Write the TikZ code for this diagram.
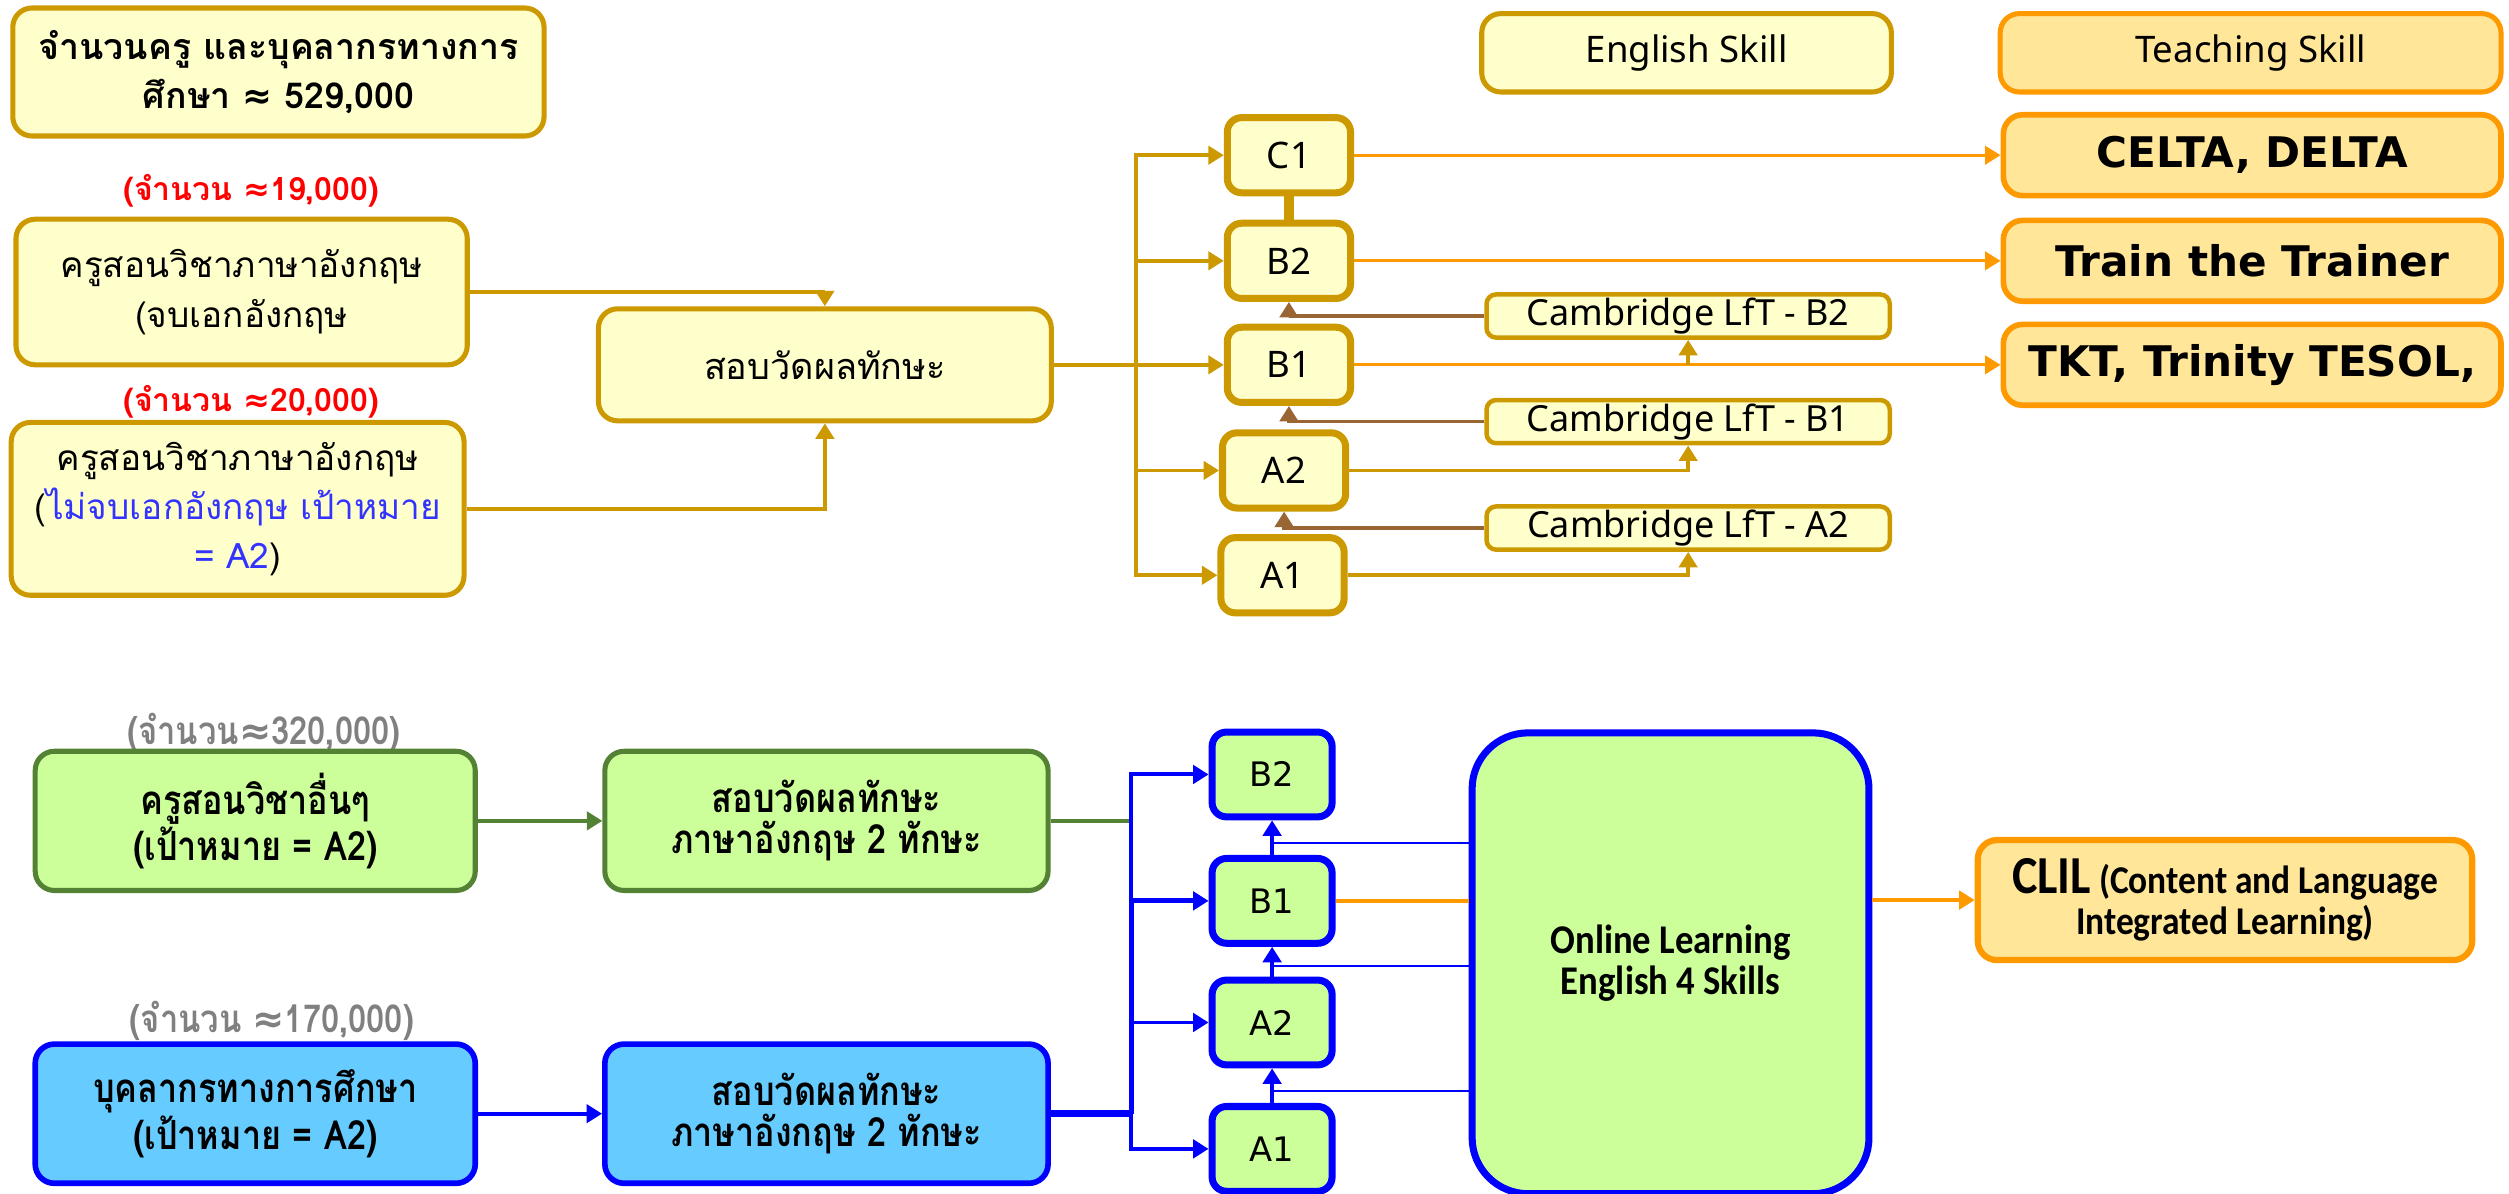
\documentclass[tikz,border=0pt]{standalone}
\usepackage{fontspec}
\usetikzlibrary{arrows.meta,calc}
\newfontfamily\thai[Script=Thai]{Loma}
\newfontfamily\thaicn[Script=Thai,FakeStretch=0.85]{Loma}
\newfontfamily\uisans{Noto Sans}
\newfontfamily\vsans{DejaVu Sans}
\newfontfamily\calib[FakeStretch=0.9]{Carlito}
\newcommand{\apx}{{\vsans ≈}}
\definecolor{goldline}{RGB}{204,153,0}
\definecolor{creamfill}{RGB}{255,255,204}
\definecolor{orangeline}{RGB}{255,153,0}
\definecolor{peachfill}{RGB}{255,230,153}
\definecolor{brownline}{RGB}{153,102,51}
\definecolor{greenline}{RGB}{84,130,53}
\definecolor{greenfill}{RGB}{204,255,153}
\definecolor{bluefill}{RGB}{102,204,255}
\definecolor{textblue}{RGB}{51,51,255}
\definecolor{labelgrey}{RGB}{128,128,128}

\begin{document}
\begin{tikzpicture}[x=0.2mm, y=-0.2mm, >={Triangle[width=6.5pt,length=5.5pt]},
	goldbox/.style={rectangle,draw=goldline,line width=1.8pt,fill=creamfill,rounded corners=2.4mm,align=center,inner sep=0pt,font=\thai\fontsize{12.5}{17.5}\selectfont},
	levelbox/.style={rectangle,draw=goldline,line width=2.5pt,fill=creamfill,rounded corners=1.8mm,minimum width=15.4mm,minimum height=9.4mm,font=\uisans\fontsize{13}{15}\selectfont},
	lftbox/.style={rectangle,draw=goldline,line width=1.6pt,fill=creamfill,rounded corners=1.2mm,minimum width=50.4mm,minimum height=5.4mm,inner sep=0pt,font=\uisans\fontsize{12.8}{14}\selectfont},
	teachbox/.style={rectangle,draw=orangeline,line width=2pt,fill=peachfill,rounded corners=2.4mm,minimum width=62.2mm,minimum height=10.1mm,font=\vsans\bfseries\fontsize{15}{17}\selectfont},
	headbox/.style={rectangle,draw,line width=1.8pt,rounded corners=2.4mm,minimum height=9.8mm,font=\uisans\fontsize{13}{15}\selectfont},
	greenbox/.style={rectangle,draw=greenline,line width=1.8pt,fill=greenfill,rounded corners=2.4mm,minimum width=55mm,minimum height=17.4mm,align=center,font=\thaicn\bfseries\fontsize{14.3}{14.5}\selectfont},
	bluebox/.style={greenbox,draw=blue,line width=2pt,fill=bluefill},
	onlevel/.style={rectangle,draw=blue,line width=2.5pt,fill=greenfill,rounded corners=1.8mm,minimum width=15mm,minimum height=10.6mm,font=\vsans\fontsize{12}{14}\selectfont},
	redlabel/.style={text=red,font=\thai\bfseries\fontsize{11.4}{13}\selectfont},
	greylabel/.style={text=labelgrey,font=\thaicn\bfseries\fontsize{13.7}{15}\selectfont}]
	\path[use as bounding box,fill=white] (0,0) rectangle (1568,746);
	\node[goldbox,minimum width=66.4mm,minimum height=16mm,font=\thai\bfseries\fontsize{12.7}{17.5}\selectfont] (Total) at (174,45) {จำนวนครู และบุคลากรทางการ\\ศึกษา \apx{} 529,000};
	\node[headbox,draw=goldline,fill=creamfill,minimum width=51.2mm] (Eng) at (1054,33) {English Skill};
	\node[headbox,draw=orangeline,fill=peachfill,minimum width=62.6mm] (Teach) at (1406.5,33) {Teaching Skill};
	\node[redlabel] (N1) at (157,119) {(จำนวน \apx19,000)};
	\node[goldbox,minimum width=56.4mm,minimum height=18.2mm] (T1) at (151,182.5) {ครูสอนวิชาภาษาอังกฤษ\\(จบเอกอังกฤษ};
	\node[redlabel] (N2) at (157,251) {(จำนวน \apx20,000)};
	\node[goldbox,minimum width=56.6mm,minimum height=21.6mm] (T2) at (148.5,318) {ครูสอนวิชาภาษาอังกฤษ\\(\textcolor{textblue}{ไม่จบเอกอังกฤษ เป้าหมาย}\\\textcolor{textblue}{= A2})};
	\node[goldbox,minimum width=56.6mm,minimum height=14mm,font=\thai\fontsize{12.8}{17.5}\selectfont] (Test) at (515.5,228) {สอบวัดผลทักษะ};
	\node[levelbox] (C1) at (805.5,97) {C1};
	\node[levelbox] (B2) at (805.5,163) {B2};
	\node[levelbox] (B1) at (805.5,228) {B1};
	\node[levelbox] (A2) at (802.5,294) {A2};
	\node[levelbox] (A1) at (801.5,359.5) {A1};
	\node[lftbox] (LB2) at (1055,197.5) {Cambridge LfT - B2};
	\node[lftbox] (LB1) at (1055,263.5) {Cambridge LfT - B1};
	\node[lftbox] (LA2) at (1055,330) {Cambridge LfT - A2};
	\node[teachbox] (Celta) at (1407.5,97) {CELTA, DELTA};
	\node[teachbox] (Trainer) at (1407.5,163) {Train the Trainer};
	\node[teachbox] (Tkt) at (1407.5,228) {TKT, Trinity TESOL,};
	\coordinate (Split) at (710,228);
	\draw[->, color=goldline, line width=1.3pt] (T1) -| (Test);
	\draw[->, color=goldline, line width=1.3pt] (T2) -| (Test);
	\draw[->, color=goldline, line width=1.3pt] (Test) -- (B1);
	\draw[->, color=goldline, line width=1.3pt] (Split) |- (C1);
	\draw[->, color=goldline, line width=1.3pt] (Split) |- (B2);
	\draw[->, color=goldline, line width=1.3pt] (Split) |- (A2);
	\draw[->, color=goldline, line width=1.3pt] (Split) |- (A1);
	\draw[-, color=goldline, line width=3.3pt] (C1) -- (B2);
	\draw[->, color=orangeline, line width=1.1pt] (C1) -- (Celta);
	\draw[->, color=orangeline, line width=1.1pt] (B2) -- (Trainer);
	\draw[->, color=orangeline, line width=1.1pt] (B1) -- (Tkt);
	\draw[->, color=brownline, line width=1.3pt] (LB2) -| (B2);
	\draw[->, color=brownline, line width=1.3pt] (LB1) -| (B1);
	\draw[->, color=brownline, line width=1.3pt] (LA2) -| (A2);
	\draw[->, color=goldline, line width=1.3pt] (B1 -| LB2) -- (LB2);
	\draw[->, color=goldline, line width=1.3pt] (A2) -| (LB1);
	\draw[->, color=goldline, line width=1.3pt] (A1) -| (LA2);
	\node[greylabel] (N3) at (165,458) {(จำนวน\apx320,000)};
	\node[greenbox] (Other) at (159.5,513) {ครูสอนวิชาอื่นๆ\\(เป้าหมาย = A2)};
	\node[greylabel] (N4) at (170,638) {(จำนวน \apx170,000)};
	\node[bluebox] (Staff) at (159.5,696) {บุคลากรทางการศึกษา\\(เป้าหมาย = A2)};
	\node[greenbox,minimum width=55.4mm] (TestG) at (516.5,513) {สอบวัดผลทักษะ\\ภาษาอังกฤษ 2 ทักษะ};
	\node[bluebox,minimum width=55.4mm] (TestB) at (516.5,696) {สอบวัดผลทักษะ\\ภาษาอังกฤษ 2 ทักษะ};
	\node[onlevel] (OB2) at (795,484) {B2};
	\node[onlevel] (OB1) at (795,563) {B1};
	\node[onlevel] (OA2) at (795,639) {A2};
	\node[onlevel] (OA1) at (795,718) {A1};
	\node[rectangle,draw=blue,line width=2.5pt,fill=greenfill,rounded corners=7mm,minimum width=49.6mm,minimum height=57.6mm,align=center,font=\calib\bfseries\fontsize{14.5}{14.5}\selectfont] (Online) at (1044,602) {Online Learning\\English 4 Skills};
	\node[rectangle,draw=orangeline,line width=2.2pt,fill=peachfill,rounded corners=2.4mm,minimum width=61.8mm,minimum height=15mm,align=center,font=\calib\bfseries\fontsize{14}{14.5}\selectfont] (Clil) at (1390.5,562.5) {{\fontsize{19}{19}\selectfont CLIL} (Content and Language\\Integrated Learning)};
	\coordinate (JG) at (707,513);
	\coordinate (JB) at (707,696);
	\draw[->, color=greenline, line width=1.3pt] (Other) -- (TestG);
	\draw[->, color=blue, line width=1.3pt] (Staff) -- (TestB);
	\draw[-, color=greenline, line width=1.3pt] (TestG) -- (JG);
	\draw[-, color=blue, line width=2.5pt] (TestB) -- (JB);
	\draw[->, color=blue, line width=1.4pt] (JB) |- (OB2);
	\draw[->, color=blue, line width=1.8pt] (JB) |- (OB1);
	\draw[->, color=blue, line width=1.4pt] (JB) |- (OA2);
	\draw[->, color=blue, line width=1.4pt] (JB) |- (OA1);
	\draw[->, color=blue, line width=1.6pt] (OA1) -- (OA2);
	\draw[->, color=blue, line width=1.6pt] (OA2) -- (OB1);
	\draw[->, color=blue, line width=1.6pt] (OB1) -- (OB2);
	\coordinate (M1) at ($(OB1.north)!.35!(OB2.south)$);
	\coordinate (M2) at ($(OA2.north)!.35!(OB1.south)$);
	\coordinate (M3) at ($(OA1.north)!.35!(OA2.south)$);
	\draw[-, color=blue, line width=0.8pt] (M1) -- (M1 -| Online.west);
	\draw[-, color=blue, line width=0.8pt] (M2) -- (M2 -| Online.west);
	\draw[-, color=blue, line width=0.8pt] (M3) -- (M3 -| Online.west);
	\draw[-, color=orangeline, line width=1.3pt] (OB1) -- (OB1 -| Online.west);
	\draw[->, color=orangeline, line width=1.3pt] (Clil -| Online.east) -- (Clil);
\end{tikzpicture}
\end{document}
